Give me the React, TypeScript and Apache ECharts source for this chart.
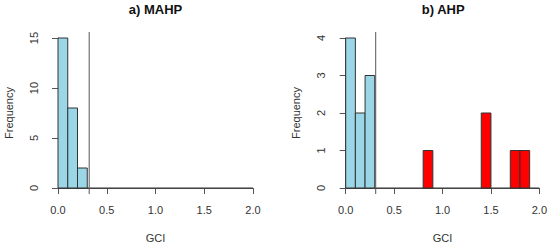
import React, { useEffect, useRef } from "react";
import * as echarts from "echarts";

// ---- data ----
const binWidth = 0.1;
const mahpBinStarts = [0.0, 0.1, 0.2];
const mahpCounts = [15, 8, 2];
const ahpBlueStarts = [0.0, 0.1, 0.2];
const ahpBlueCounts = [4, 2, 3];
const ahpRedStarts = [0.8, 1.4, 1.7, 1.8];
const ahpRedCounts = [1, 2, 1, 1];
const mahpThreshold = 0.32;
const ahpThreshold = 0.31;
const xTicks = [0, 0.5, 1.0, 1.5, 2.0];
const titles = ["a) MAHP", "b) AHP"];
const mahpYMax = 15;
const ahpYMax = 4;

const BLUE = "#9AD6E6";
const RED = "#FF0000";
const LINE = "#555";
const TEXT = "#333";
const FONT = "Liberation Sans, Arial, sans-serif";

function bars(starts: number[], counts: number[]) {
  return starts.map((s, i) => [s, s + binWidth, counts[i]]);
}

export default function App() {
  const ref = useRef<HTMLDivElement>(null);
  useEffect(() => {
    if (!ref.current) return;
    const chart = echarts.init(ref.current, undefined, { renderer: "svg" });

    const gridLefts = [58, 345.7];
    const plotW = 195;
    const yMaxes = [mahpYMax, ahpYMax];
    const yIntervals = [5, 1];

    const renderRect = (color: string) => (params: any, api: any) => {
      const x0 = api.value(0);
      const x1 = api.value(1);
      const c = api.value(2);
      const p0 = api.coord([x0, 0]);
      const p1 = api.coord([x1, c]);
      return {
        type: "rect",
        shape: { x: p0[0], y: p1[1], width: p1[0] - p0[0], height: p0[1] - p1[1] },
        style: { fill: color, stroke: "#333", lineWidth: 1 },
      };
    };

    const grids = gridLefts.map((l) => ({ left: l, width: plotW, top: 38, height: 151 }));

    const xAxes = gridLefts.map((_, i) => ({
      type: "value",
      gridIndex: i,
      min: 0,
      max: 2,
      interval: 0.5,
      offset: 7,
      axisLine: { show: true, lineStyle: { color: LINE, width: 1 } },
      axisTick: { show: true, length: 6, lineStyle: { color: LINE } },
      splitLine: { show: false },
      axisLabel: {
        color: TEXT,
        fontFamily: FONT,
        fontSize: 11,
        margin: 9,
        formatter: (v: number) => (xTicks.includes(v) ? v.toFixed(1) : ""),
      },
      name: "GCI",
      nameLocation: "middle",
      nameGap: 37,
      nameTextStyle: { color: TEXT, fontFamily: FONT, fontSize: 11 },
    }));

    const yAxes = gridLefts.map((_, i) => ({
      type: "value",
      gridIndex: i,
      min: 0,
      max: yMaxes[i],
      interval: yIntervals[i],
      offset: 8,
      axisLine: { show: true, lineStyle: { color: LINE, width: 1 } },
      axisTick: { show: true, length: 6, lineStyle: { color: LINE } },
      splitLine: { show: false },
      axisLabel: {
        color: TEXT,
        fontFamily: FONT,
        fontSize: 11,
        rotate: 90,
        margin: 11,
      },
      name: "Frequency",
      nameLocation: "middle",
      nameGap: 36,
      nameTextStyle: { color: TEXT, fontFamily: FONT, fontSize: 11 },
    }));

    const vline = (i: number, x: number, ymax: number) => ({
      type: "line",
      xAxisIndex: i,
      yAxisIndex: i,
      clip: false,
      symbol: "none",
      silent: true,
      lineStyle: { color: "#555", width: 1 },
      data: [
        [x, -ymax * 0.04],
        [x, ymax * 1.04],
      ],
      z: 5,
    });

    const baseline = (i: number) => ({
      type: "line",
      xAxisIndex: i,
      yAxisIndex: i,
      symbol: "none",
      silent: true,
      clip: false,
      lineStyle: { color: "#333", width: 1 },
      data: [
        [0, 0],
        [2, 0],
      ],
      z: 1,
    });

    const option: any = {
      animation: false,
      backgroundColor: "#fff",
      grid: grids,
      xAxis: xAxes,
      yAxis: yAxes,
      graphic: titles.map((t, i) => ({
        type: "text",
        x: gridLefts[i] + plotW / 2,
        y: 9,
        style: {
          text: t,
          fill: "#111",
          font: `bold 13px ${FONT}`,
          align: "center",
          verticalAlign: "middle",
        },
      })),
      series: [
        baseline(0),
        baseline(1),
        {
          type: "custom",
          xAxisIndex: 0,
          yAxisIndex: 0,
          renderItem: renderRect(BLUE),
          data: bars(mahpBinStarts, mahpCounts),
          z: 2,
        },
        {
          type: "custom",
          xAxisIndex: 1,
          yAxisIndex: 1,
          renderItem: renderRect(BLUE),
          data: bars(ahpBlueStarts, ahpBlueCounts),
          z: 2,
        },
        {
          type: "custom",
          xAxisIndex: 1,
          yAxisIndex: 1,
          renderItem: renderRect(RED),
          data: bars(ahpRedStarts, ahpRedCounts),
          z: 2,
        },
        vline(0, mahpThreshold, mahpYMax),
        vline(1, ahpThreshold, ahpYMax),
      ],
    };
    chart.setOption(option);
    return () => chart.dispose();
  }, []);

  return <div ref={ref} style={{ width: 550, height: 248, position: "absolute", left: 0, top: 0 }} />;
}
